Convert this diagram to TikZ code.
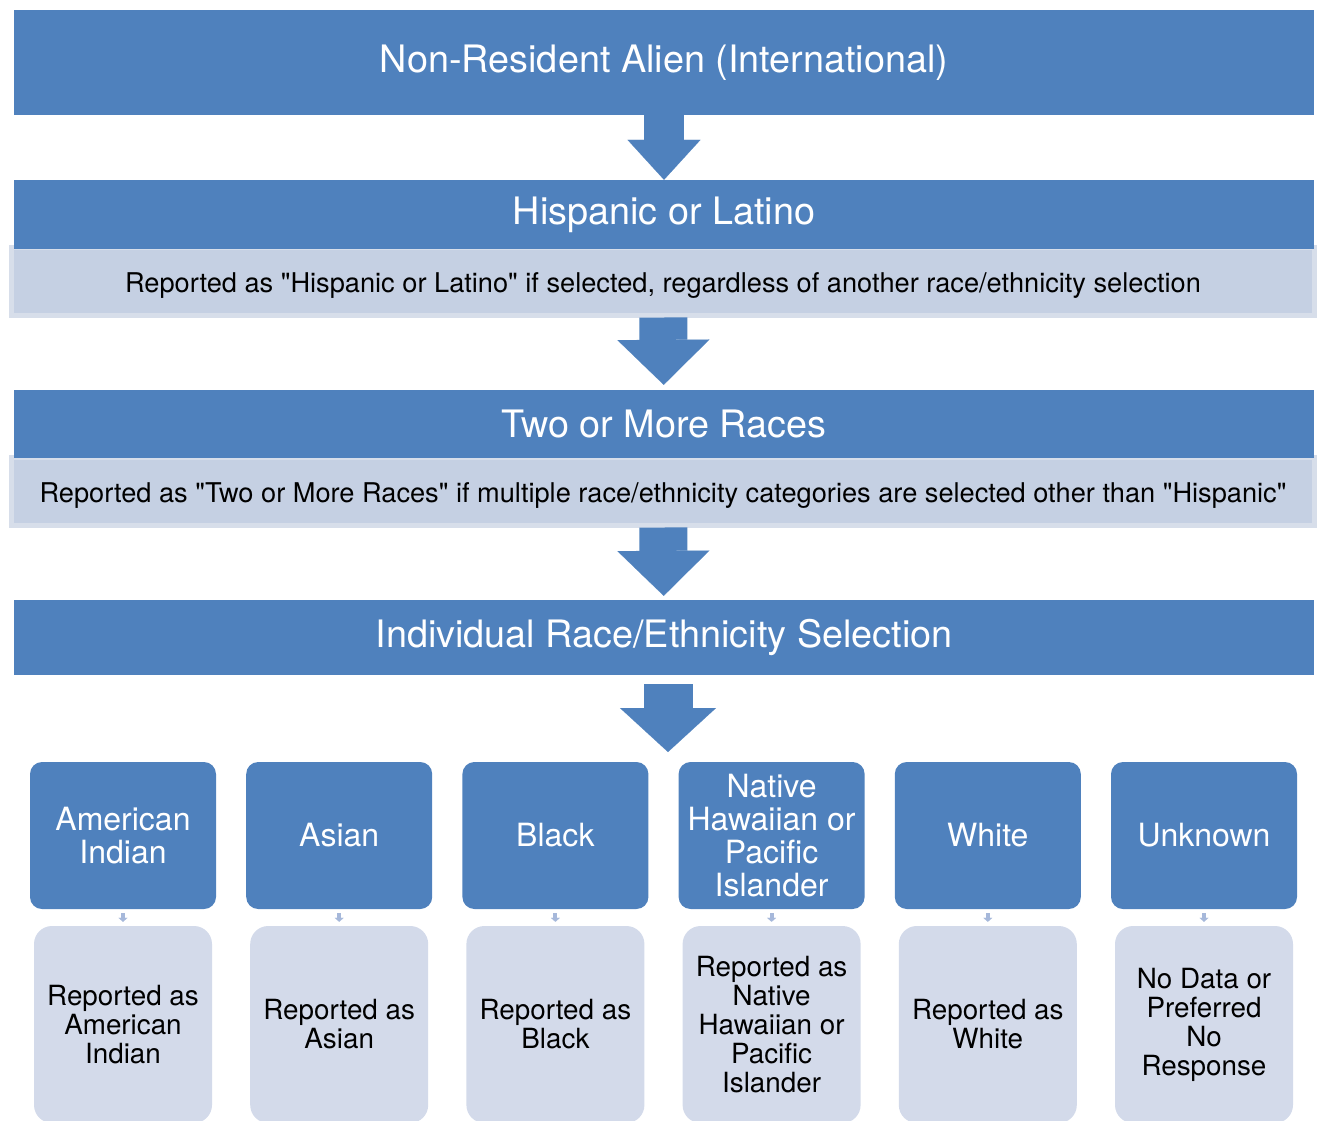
\documentclass[tikz,border=0pt]{standalone}
\usepackage{fontspec}
\setmainfont{TeX Gyre Heros}
\usetikzlibrary{arrows.meta}

\definecolor{hdrblue}{HTML}{4F81BD}
\definecolor{bandfill}{HTML}{C5D0E3}
\definecolor{bandedge}{HTML}{D7DEEA}
\definecolor{descfill}{HTML}{D3DAEA}
\definecolor{tinyblue}{HTML}{A6B8DA}

\newcommand{\qt}{\textquotedbl}

\tikzset{
    banner/.style={fill=hdrblue, text=white, inner sep=0pt,
        minimum width=1300pt, font=\fontsize{37.8}{40}\selectfont},
    band/.style={fill=bandfill, draw=bandedge, line width=5pt, inner sep=0pt,
        minimum width=1303pt, minimum height=68pt, text height=29pt, text depth=6pt,
        font=\fontsize{27.2}{30}\selectfont},
    catbox/.style={fill=hdrblue, text=white, rounded corners=12pt, inner sep=0pt,
        minimum width=186pt, minimum height=147pt, align=center,
        font=\fontsize{32}{33}\selectfont},
    descbox/.style={fill=descfill, rounded corners=18pt, inner sep=0pt,
        minimum width=178pt, minimum height=197pt, align=center,
        font=\fontsize{27.8}{29}\selectfont},
    bigarrow/.style={hdrblue, line width=#1},
    smallarrow/.style={tinyblue, line width=4pt,
        -{Triangle[width=9pt, length=4pt, line width=0.1pt]}}
}

\begin{document}
\begin{tikzpicture}[x=1pt, y=-1pt]
    \useasboundingbox (0,0) rectangle (1317,1120);

    % top of the cascade
    \node[banner, minimum height=105pt] (nra) at (664,62.5) {Non-Resident Alien (International)};
    \node[band] (hispnote) at (663,281) {Reported as \qt Hispanic or Latino\qt{} if selected, regardless of another race/ethnicity selection};
    \node[banner, minimum height=69pt] (hisp) at (664,214.5) {Hispanic or Latino};
    \node[band] (twonote) at (663,491) {Reported as \qt Two or More Races\qt{} if multiple race/ethnicity categories are selected other than \qt Hispanic\qt};
    \node[banner, minimum height=68pt] (two) at (664,424) {Two or More Races};
    \node[banner, minimum height=75pt] (ind) at (664,637.5) {Individual Race/Ethnicity Selection};
    \coordinate (fan) at (668,752);

    \draw[bigarrow=40pt, -{Triangle[width=73pt, length=40pt, line width=0.1pt]}] (nra) -- (hisp);
    \draw[bigarrow=48pt, -{Triangle[width=92pt, length=45pt, line width=0.1pt]}, shorten >=5pt] (hispnote) -- (two);
    \draw[bigarrow=48pt, -{Triangle[width=92pt, length=45pt, line width=0.1pt]}, shorten >=4pt] (twonote) -- (ind);
    \draw[bigarrow=49pt, -{Triangle[width=96pt, length=44pt, line width=0.1pt]}, shorten <=9pt] (ind.south -| fan) -- (fan);

    % one column per category
    \foreach \cat/\desc [count=\i from 0] in {
        {American\\Indian}/{Reported as\\American\\Indian},
        {Asian}/{Reported as\\Asian},
        {Black}/{Reported as\\Black},
        {Native\\Hawaiian or\\Pacific\\Islander}/{Reported as\\Native\\Hawaiian or\\Pacific\\Islander},
        {White}/{Reported as\\White},
        {Unknown}/{No Data or\\Preferred\\No\\Response}}
    {
        \node[catbox] (cat\i) at (123+216.2*\i,835.5) {\cat};
        \node[descbox] (desc\i) at (123+216.2*\i,1024.5) {\desc};
        \draw[smallarrow, shorten <=4pt, shorten >=4pt] (cat\i) -- (desc\i);
    }
\end{tikzpicture}
\end{document}
